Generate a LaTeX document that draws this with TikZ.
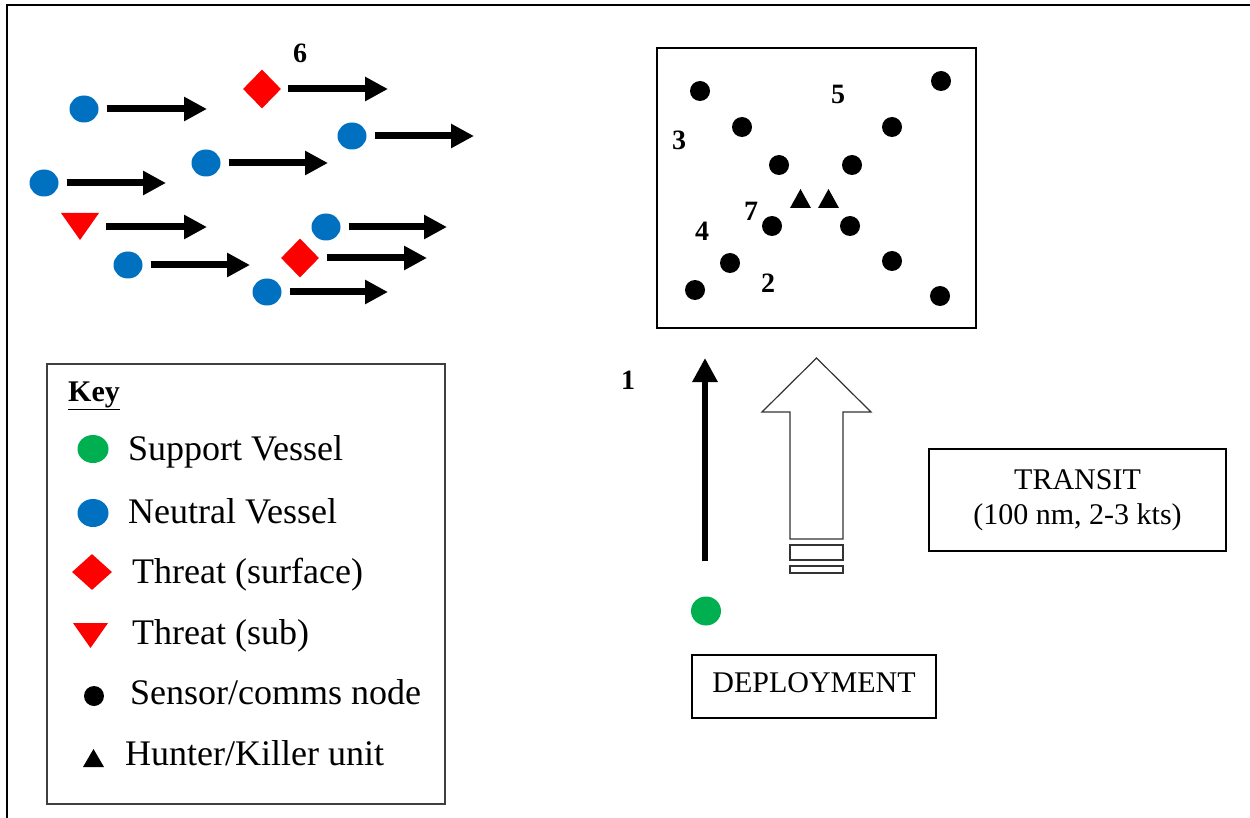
\documentclass[tikz,border=0pt]{standalone}
\usepackage{fontspec}
\setmainfont{Liberation Serif}
\usetikzlibrary{arrows.meta,shapes.geometric}
\definecolor{neutralblue}{HTML}{0070C0}
\definecolor{supportgreen}{HTML}{00B050}
\definecolor{threatred}{HTML}{FF0000}
\definecolor{keygray}{HTML}{3F3F3F}
\begin{document}
\begin{tikzpicture}[x=1pt,y=-1pt,
  neutral/.style={ellipse,fill=neutralblue,minimum width=29pt,minimum height=27pt,inner sep=0pt},
  support/.style={ellipse,fill=supportgreen,minimum width=30pt,minimum height=29pt,inner sep=0pt},
  surface/.style={diamond,fill=threatred,minimum width=38pt,minimum height=39pt,inner sep=0pt},
  sensor/.style={circle,fill=black,minimum size=20pt,inner sep=0pt},
  flow/.style={line width=7pt,-{Triangle[length=23pt,width=23pt]}},
  numlabel/.style={font=\fontsize{28}{30}\selectfont\bfseries,inner sep=0pt},
  keytext/.style={font=\fontsize{36}{40}\selectfont,anchor=base west,inner sep=0pt},
  boxtext/.style={draw,line width=1.4pt,align=center,font=\fontsize{30}{35}\selectfont,inner sep=0pt}
]
\useasboundingbox (0,0) rectangle (1250,818);
\fill[white] (0,0) rectangle (1250,818);
% outer frame (top and left only)
\draw[line width=1.6pt] (7,818) -- (7,5) -- (1250,5);

% ---------- traffic flow ----------
\node[neutral] (b1) at (84,109) {};
\coordinate (e1) at (207,109);
\draw[flow] ([xshift=8pt]b1.east) -- (e1);

\node[surface] (d1) at (262,89) {};
\coordinate (e2) at (388,89);
\draw[flow] ([xshift=7pt]d1.east) -- (e2);
\node[numlabel] (l6) at (300,53) {6};

\node[neutral] (b2) at (352,136) {};
\coordinate (e3) at (474,136);
\draw[flow] ([xshift=8pt]b2.east) -- (e3);

\node[neutral] (b3) at (206,163) {};
\coordinate (e4) at (328,163);
\draw[flow] ([xshift=8pt]b3.east) -- (e4);

\node[neutral] (b4) at (44,183) {};
\coordinate (e5) at (166,183);
\draw[flow] ([xshift=8pt]b4.east) -- (e5);

\fill[threatred] (61,213) -- (99,213) -- (80,240) -- cycle;
\coordinate (s1) at (99,227);
\coordinate (e6) at (207,227);
\draw[flow] ([xshift=7pt]s1) -- (e6);

\node[neutral] (b5) at (326,227) {};
\coordinate (e7) at (447,227);
\draw[flow] ([xshift=8pt]b5.east) -- (e7);

\node[surface] (d2) at (300,258) {};
\coordinate (e8) at (427,258);
\draw[flow] ([xshift=8pt]d2.east) -- (e8);

\node[neutral] (b6) at (128,265) {};
\coordinate (e9) at (250,265);
\draw[flow] ([xshift=8pt]b6.east) -- (e9);

\node[neutral] (b7) at (267,292) {};
\coordinate (e10) at (388,292);
\draw[flow] ([xshift=8pt]b7.east) -- (e10);

% ---------- sensor field ----------
\node[draw,line width=1.4pt,minimum width=319pt,minimum height=280pt,inner sep=0pt] (field) at (816.5,188) {};
\node[sensor] (n1) at (700,91) {};
\node[sensor] (n2) at (941,81) {};
\node[sensor] (n3) at (742,127) {};
\node[sensor] (n4) at (892,127) {};
\node[sensor] (n5) at (779,165) {};
\node[sensor] (n6) at (852,165) {};
\node[sensor] (n7) at (772,226) {};
\node[sensor] (n8) at (850,226) {};
\node[sensor] (n9) at (730,263) {};
\node[sensor] (n10) at (892,261) {};
\node[sensor] (n11) at (695,290) {};
\node[sensor] (n12) at (940,296) {};
\fill (790,208) -- (811,208) -- (800.5,189) -- cycle;
\fill (818,208) -- (839,208) -- (828.5,189) -- cycle;
\node[numlabel] (l5) at (838,94) {5};
\node[numlabel] (l3) at (679,140) {3};
\node[numlabel] (l7) at (751,211) {7};
\node[numlabel] (l4) at (702,231) {4};
\node[numlabel] (l2) at (768,283) {2};

% ---------- deployment / transit ----------
\node[support] (g) at (706,611) {};
\coordinate (dtip) at (705,358);
\draw[line width=6pt,-{Triangle[length=24pt,width=24pt]}] ([xshift=-1pt,yshift=35pt]g.north) -- (dtip);
\node[numlabel] (l1) at (628,380) {1};

\draw[line width=1.2pt,draw=black!80] (816.5,358) -- (871,412) -- (843,412) -- (843,539) -- (790,539) -- (790,412) -- (762,412) -- cycle;
\draw[line width=1.2pt,draw=black!80] (790,545) rectangle (843,560);
\draw[line width=1.2pt,draw=black!80] (790,566) rectangle (843,573);

\node[boxtext,minimum width=244pt,minimum height=63pt,text height=20pt,text depth=9pt] (deploy) at (814,686.5) {DEPLOYMENT};
\node[boxtext,minimum width=297pt,minimum height=102pt] (transit) at (1077.5,500) {TRANSIT\\(100 nm, 2-3 kts)};

% ---------- key ----------
\node[draw=keygray,line width=2pt,minimum width=398pt,minimum height=440pt,inner sep=0pt] (key) at (246,584) {};
\node[font=\fontsize{30}{32}\selectfont\bfseries,anchor=base west,inner sep=0pt] (keyt) at (68,401) {\underline{Key}};

\node[support,minimum width=31pt,minimum height=28pt] (k1) at (93,449) {};
\node[keytext] (t1) at (128,460) {Support Vessel};
\node[neutral,minimum width=31pt,minimum height=28pt] (k2) at (93,513) {};
\node[keytext] (t2) at (128,523) {Neutral Vessel};
\node[surface,minimum width=40pt,minimum height=36pt] (k3) at (92,572) {};
\node[keytext] (t3) at (132,583) {Threat (surface)};
\fill[threatred] (73,623) -- (108,623) -- (90.5,648) -- cycle;
\node[keytext] (t4) at (132,644) {Threat (sub)};
\node[sensor] (k5) at (94,696) {};
\node[keytext] (t5) at (130,704) {Sensor/comms node};
\fill (83,767) -- (104,767) -- (93.5,749) -- cycle;
\node[keytext] (t6) at (125,765) {Hunter/Killer unit};
\end{tikzpicture}
\end{document}
